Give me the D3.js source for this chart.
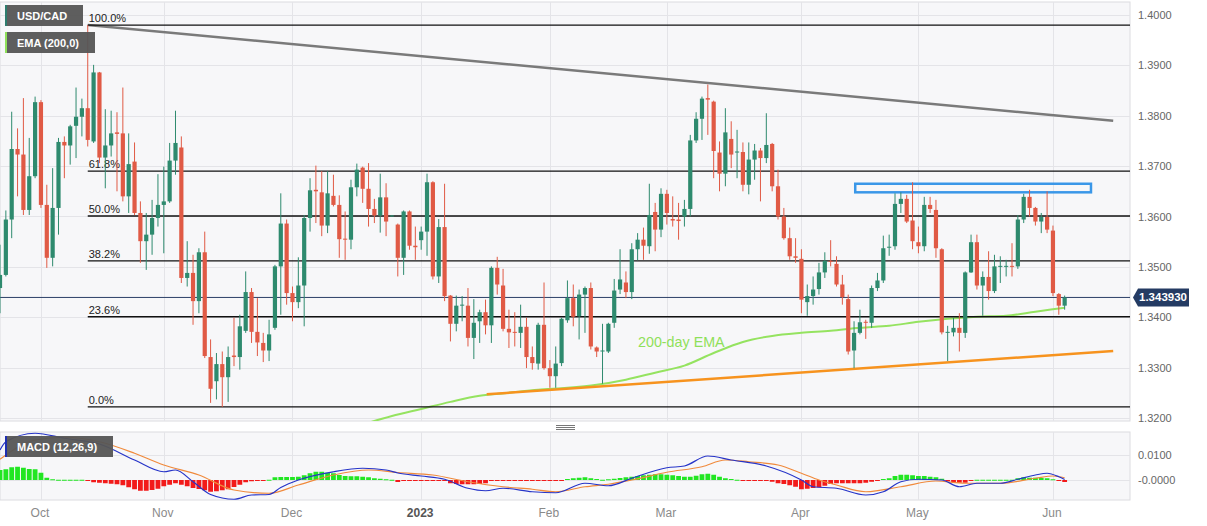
<!DOCTYPE html>
<html><head><meta charset="utf-8">
<script src="https://cdn.jsdelivr.net/npm/d3@7"></script>
<style>
body{margin:0;background:#fff;}
svg{display:block;font-family:"Liberation Sans",Arial,sans-serif;}
</style></head><body>
<svg id="c" width="1207" height="526"></svg>
<script>
// ---------- DATA ----------
// daily candles [open, high, low, close], trading-day index 0 = 22 Sep 2022 ... 182 = 5 Jun 2023
const ohlc = [
[1.3458,1.3544,1.3408,1.3484],[1.3484,1.3612,1.3481,1.3594],[1.3594,1.3808,1.3557,1.3734],[1.3734,1.3775,1.3640,1.3723],
[1.3723,1.3835,1.3603,1.3613],[1.3613,1.3756,1.3603,1.3680],[1.3680,1.3838,1.3676,1.3827],[1.3827,1.3831,1.3617,1.3623],
[1.3623,1.3663,1.3498,1.3518],[1.3518,1.3696,1.3501,1.3617],[1.3617,1.3756,1.3564,1.3748],[1.3748,1.3759,1.3676,1.3741],
[1.3741,1.3782,1.3703,1.3779],[1.3780,1.3856,1.3716,1.3798],[1.3798,1.3834,1.3759,1.3815],[1.3815,1.3980,1.3739,1.3752],
[1.3749,1.3901,1.3746,1.3886],[1.3886,1.3887,1.3706,1.3717],[1.3717,1.3813,1.3656,1.3741],[1.3741,1.3810,1.3719,1.3765],
[1.3767,1.3807,1.3650,1.3764],[1.3765,1.3856,1.3630,1.3640],[1.3640,1.3765,1.3607,1.3704],[1.3709,1.3747,1.3603,1.3607],
[1.3607,1.3630,1.3508,1.3551],[1.3551,1.3607,1.3494,1.3564],[1.3564,1.3633,1.3524,1.3597],[1.3597,1.3684,1.3580,1.3623],
[1.3623,1.3699,1.3527,1.3630],[1.3630,1.3746,1.3627,1.3711],[1.3711,1.3810,1.3683,1.3746],[1.3737,1.3759,1.3468,1.3478],
[1.3478,1.3551,1.3461,1.3488],[1.3488,1.3524,1.3385,1.3432],[1.3432,1.3537,1.3408,1.3529],[1.3529,1.3570,1.3319,1.3323],
[1.3321,1.3356,1.3230,1.3258],[1.3273,1.3329,1.3237,1.3307],[1.3307,1.3332,1.3222,1.3281],[1.3281,1.3342,1.3232,1.3321],
[1.3324,1.3399,1.3303,1.3321],[1.3321,1.3405,1.3296,1.3382],[1.3373,1.3491,1.3369,1.3450],[1.3450,1.3458,1.3349,1.3371],
[1.3371,1.3438,1.3323,1.3350],[1.3349,1.3369,1.3311,1.3334],[1.3334,1.3395,1.3313,1.3366],[1.3379,1.3504,1.3375,1.3501],
[1.3501,1.3646,1.3405,1.3586],[1.3586,1.3594,1.3425,1.3448],[1.3448,1.3461,1.3392,1.3430],[1.3430,1.3519,1.3418,1.3463],
[1.3463,1.3603,1.3382,1.3597],[1.3597,1.3676,1.3570,1.3652],[1.3653,1.3701,1.3587,1.3650],[1.3648,1.3690,1.3561,1.3582],
[1.3582,1.3690,1.3567,1.3646],[1.3641,1.3683,1.3620,1.3623],[1.3623,1.3642,1.3518,1.3555],[1.3556,1.3610,1.3514,1.3554],
[1.3554,1.3673,1.3535,1.3658],[1.3658,1.3705,1.3640,1.3693],[1.3697,1.3699,1.3627,1.3655],[1.3655,1.3706,1.3580,1.3615],
[1.3615,1.3635,1.3587,1.3602],[1.3602,1.3685,1.3568,1.3638],[1.3638,1.3666,1.3561,1.3590],[1.3601,1.3603,1.3600,1.3602],
[1.3584,1.3586,1.3481,1.3518],[1.3518,1.3612,1.3484,1.3610],[1.3610,1.3612,1.3534,1.3542],[1.3542,1.3580,1.3514,1.3539],
[1.3553,1.3580,1.3534,1.3570],[1.3570,1.3685,1.3522,1.3668],[1.3668,1.3670,1.3475,1.3481],[1.3481,1.3595,1.3468,1.3579],
[1.3579,1.3665,1.3432,1.3442],[1.3443,1.3444,1.3352,1.3387],[1.3387,1.3443,1.3372,1.3423],[1.3424,1.3442,1.3392,1.3425],
[1.3423,1.3458,1.3342,1.3359],[1.3359,1.3436,1.3317,1.3389],[1.3392,1.3415,1.3349,1.3410],[1.3410,1.3435,1.3366,1.3384],
[1.3384,1.3501,1.3349,1.3498],[1.3498,1.3520,1.3445,1.3465],[1.3463,1.3496,1.3372,1.3377],[1.3377,1.3415,1.3339,1.3370],
[1.3371,1.3410,1.3342,1.3369],[1.3369,1.3425,1.3339,1.3381],[1.3381,1.3399,1.3299,1.3321],[1.3321,1.3342,1.3296,1.3309],
[1.3308,1.3389,1.3296,1.3385],[1.3385,1.3469,1.3296,1.3299],[1.3299,1.3315,1.3260,1.3283],[1.3283,1.3342,1.3260,1.3308],
[1.3309,1.3399,1.3303,1.3397],[1.3394,1.3473,1.3389,1.3438],[1.3438,1.3465,1.3382,1.3401],[1.3402,1.3455,1.3356,1.3445],
[1.3445,1.3461,1.3369,1.3458],[1.3458,1.3469,1.3336,1.3342],[1.3340,1.3342,1.3321,1.3332],[1.3332,1.3387,1.3268,1.3334],
[1.3332,1.3389,1.3329,1.3387],[1.3389,1.3476,1.3379,1.3453],[1.3455,1.3535,1.3446,1.3475],[1.3469,1.3491,1.3438,1.3450],
[1.3450,1.3547,1.3436,1.3535],[1.3535,1.3567,1.3513,1.3554],[1.3554,1.3578,1.3514,1.3542],[1.3541,1.3665,1.3526,1.3603],
[1.3609,1.3627,1.3531,1.3574],[1.3574,1.3656,1.3559,1.3645],[1.3645,1.3653,1.3584,1.3607],[1.3595,1.3640,1.3580,1.3592],
[1.3594,1.3627,1.3554,1.3591],[1.3600,1.3633,1.3580,1.3615],[1.3615,1.3762,1.3600,1.3751],[1.3751,1.3807,1.3746,1.3794],
[1.3794,1.3838,1.3752,1.3834],[1.3835,1.3862,1.3762,1.3832],[1.3828,1.3830,1.3676,1.3730],[1.3727,1.3749,1.3650,1.3685],
[1.3685,1.3815,1.3660,1.3767],[1.3754,1.3789,1.3696,1.3723],[1.3727,1.3772,1.3676,1.3729],[1.3728,1.3747,1.3650,1.3663],
[1.3663,1.3747,1.3644,1.3713],[1.3713,1.3744,1.3673,1.3731],[1.3731,1.3736,1.3630,1.3716],[1.3716,1.3805,1.3706,1.3742],
[1.3744,1.3746,1.3650,1.3660],[1.3660,1.3693,1.3594,1.3600],[1.3600,1.3617,1.3554,1.3557],[1.3557,1.3578,1.3514,1.3521],
[1.3521,1.3557,1.3508,1.3518],[1.3516,1.3535,1.3408,1.3435],[1.3430,1.3465,1.3403,1.3442],[1.3442,1.3481,1.3425,1.3455],
[1.3456,1.3508,1.3445,1.3489],[1.3489,1.3529,1.3478,1.3512],[1.3512,1.3553,1.3501,1.3510],[1.3506,1.3521,1.3461,1.3465],
[1.3465,1.3484,1.3425,1.3440],[1.3436,1.3445,1.3326,1.3332],[1.3334,1.3392,1.3299,1.3369],[1.3369,1.3415,1.3366,1.3390],
[1.3391,1.3395,1.3357,1.3389],[1.3389,1.3463,1.3379,1.3458],[1.3458,1.3488,1.3452,1.3473],[1.3473,1.3562,1.3468,1.3537],
[1.3538,1.3564,1.3522,1.3540],[1.3541,1.3646,1.3534,1.3625],[1.3625,1.3648,1.3607,1.3635],[1.3635,1.3643,1.3587,1.3590],
[1.3592,1.3668,1.3535,1.3551],[1.3549,1.3580,1.3527,1.3541],[1.3541,1.3639,1.3531,1.3623],[1.3623,1.3639,1.3607,1.3615],
[1.3613,1.3633,1.3518,1.3537],[1.3535,1.3537,1.3366,1.3370],[1.3370,1.3383,1.3313,1.3371],[1.3370,1.3399,1.3362,1.3379],
[1.3379,1.3408,1.3332,1.3369],[1.3369,1.3491,1.3359,1.3489],[1.3489,1.3564,1.3488,1.3549],[1.3549,1.3564,1.3455,1.3463],
[1.3463,1.3491,1.3403,1.3480],[1.3480,1.3531,1.3435,1.3452],[1.3452,1.3524,1.3448,1.3501],[1.3500,1.3521,1.3468,1.3502],
[1.3501,1.3514,1.3481,1.3502],[1.3502,1.3547,1.3481,1.3500],[1.3501,1.3603,1.3496,1.3594],[1.3594,1.3645,1.3587,1.3639],
[1.3639,1.3653,1.3600,1.3617],[1.3617,1.3619,1.3582,1.3590],[1.3590,1.3607,1.3567,1.3599],[1.3599,1.3650,1.3567,1.3574],
[1.3572,1.3582,1.3442,1.3448],[1.3446,1.3448,1.3405,1.3423],[1.3423,1.3443,1.3415,1.34393]
];
const lastPrice = 1.34393;
const lastPriceLabel = "1.343930";

// 200-day EMA read at sample days [dayIndex, value]
const ema200 = [[62,1.3187],[67,1.3204],[72,1.3218],[77,1.3232],[82,1.3244],[87,1.3250],[92,1.3256],[97,1.3260],
[102,1.3266],[107,1.3276],[112,1.3290],[117,1.3304],[122,1.3329],[127,1.3351],[132,1.3363],[137,1.3369],[142,1.3373],
[147,1.3379],[152,1.3383],[157,1.3391],[162,1.3397],[167,1.3401],[172,1.3403],[177,1.3411],[182,1.3419]];

// MACD histogram, one value per candle
const macdHist = [
0.0040,0.0043,0.0051,0.0053,0.0049,0.0044,0.0043,0.0029,0.0009,0.0003,0.0001,0.0001,0.0001,0.0001,0.0001,
-0.0002,
-0.0009,-0.0011,-0.0013,-0.0015,-0.0017,-0.0021,-0.0029,-0.0037,-0.0043,-0.0043,-0.0040,-0.0035,-0.0025,-0.0019,-0.0013,
-0.0019,-0.0025,-0.0032,-0.0036,-0.0041,-0.0047,-0.0045,-0.0041,-0.0037,-0.0028,-0.0019,-0.0009,-0.0005,-0.0004,-0.0002,0.0001,
0.0011,0.0012,0.0012,0.0012,0.0013,0.0019,0.0027,0.0033,0.0033,0.0029,0.0027,0.0020,0.0016,0.0015,0.0015,0.0013,0.0011,0.0007,0.0005,0.0003,0.0001,
-0.0008,
-0.0004,-0.0004,-0.0004,-0.0004,-0.0004,-0.0004,-0.0004,-0.0004,
-0.0013,-0.0016,-0.0017,-0.0017,-0.0017,-0.0016,-0.0013,
-0.0003,-0.0003,-0.0003,-0.0003,-0.0003,-0.0003,-0.0003,-0.0003,-0.0003,-0.0003,-0.0003,-0.0003,-0.0003,
0.0004,0.0007,0.0009,0.0011,0.0007,0.0004,0.0001,0.0003,0.0005,0.0008,0.0011,0.0013,0.0016,0.0019,0.0021,
0.0023,0.0023,0.0021,0.0019,0.0016,0.0013,0.0013,0.0017,0.0023,0.0025,0.0021,0.0013,0.0007,0.0004,0.0001,
-0.0004,-0.0004,-0.0004,-0.0004,-0.0004,-0.0007,-0.0013,-0.0016,-0.0021,-0.0027,
-0.0037,-0.0035,-0.0032,-0.0029,-0.0023,-0.0016,-0.0013,-0.0013,-0.0013,-0.0013,-0.0013,-0.0011,-0.0007,-0.0003,
0.0004,0.0007,0.0016,0.0021,0.0021,0.0019,0.0016,0.0016,0.0013,0.0011,0.0005,
-0.0005,-0.0008,-0.0011,-0.0011,-0.0003,
0.0001,0.0001,0.0001,0.0001,0.0001,0.0001,0.0001,
0.0007,0.0011,0.0009,0.0009,0.0008,0.0007,0.0003,
-0.0004,-0.0008
];
// MACD and signal lines read at sample days [dayIndex, value]
const macdLine = [[0,0.0120],[1,0.0153],[6,0.0187],[11,0.0167],[17,0.0144],[23,0.0080],[28,0.0033],[30,0.0040],[33,-0.0007],
[36,-0.0058],[40,-0.0077],[43,-0.0060],[46,-0.0058],[48,-0.0030],[51,0.0000],[57,0.0033],[62,0.0047],[66,0.0040],[68,0.0028],
[72,0.0016],[76,0.0003],[80,-0.0033],[83,-0.0043],[86,-0.0033],[91,-0.0047],[95,-0.0051],[100,-0.0013],[104,-0.0023],
[108,0.0007],[114,0.0049],[117,0.0056],[121,0.0096],[125,0.0080],[131,0.0056],[137,0.0000],[139,-0.0027],[143,-0.0033],
[148,-0.0060],[151,-0.0047],[154,-0.0007],[157,0.0003],[161,0.0000],[164,-0.0027],[167,-0.0013],[171,-0.0013],[174,0.0003],
[177,0.0020],[179,0.0027],[181,0.0013],[182,0.0002]];
const signalLine = [[0,0.0083],[6,0.0160],[11,0.0171],[17,0.0153],[23,0.0107],[28,0.0060],[34,0.0020],[40,-0.0040],
[46,-0.0053],[51,-0.0020],[57,0.0020],[63,0.0040],[68,0.0030],[74,0.0020],[80,-0.0007],[86,-0.0027],[91,-0.0037],
[95,-0.0047],[100,-0.0027],[104,-0.0017],[108,0.0000],[114,0.0031],[120,0.0053],[124,0.0080],[128,0.0073],[133,0.0060],
[137,0.0027],[140,0.0000],[143,-0.0020],[148,-0.0047],[154,-0.0027],[160,-0.0004],[165,-0.0013],[171,-0.0013],
[177,0.0007],[180,0.0016],[182,0.0009]];

// Fibonacci retracement levels
const fibLabels = ["100.0%","61.8%","50.0%","38.2%","23.6%","0.0%"];
const fibValues = [1.3980,1.3690,1.3601,1.3512,1.3401,1.3222];
const fibStartDay = 15;

// trend lines [dayIndex, price]
const resistanceLine = [[15,1.3980],[190.3,1.3790]];
const supportLine = [[83.2,1.3247],[190.3,1.3333]];
// resistance zone box [dayStart, dayEnd, priceTop, priceBottom]
const zoneBox = [146.2,186.5,1.3665,1.3648];

// axes
const priceTicks = [1.32,1.33,1.34,1.35,1.36,1.37,1.38,1.39,1.40];
const macdTicks = [0.01,0];
const macdTickLabels = ["0.0100","-0.0000"];
const monthDays = [7,28,50,72,94,114,137,157,180];
const monthLabels = ["Oct","Nov","Dec","2023","Feb","Mar","Apr","May","Jun"];

// ---------- DRAW ----------
const svg = d3.select("#c");
const L = 0, R = 1130, pT = 2, pB = 421, mT = 432, mB = 500;
const x = d3.scaleLinear().domain([0,193]).range([0,1129]);
const y = d3.scaleLinear().domain([1.32,1.40]).range([418,15]);
const ym = d3.scaleLinear().domain([0,0.01]).range([480,455]);

const defs = svg.append("defs");
defs.append("clipPath").attr("id","cp").append("rect").attr("x",L).attr("y",pT).attr("width",R-L).attr("height",pB-pT);
defs.append("clipPath").attr("id","cm").append("rect").attr("x",L).attr("y",mT).attr("width",R-L).attr("height",mB-mT);

// panels
svg.append("rect").attr("x",L).attr("y",pT).attr("width",R-L).attr("height",pB-pT).attr("fill","#f7f7f9").attr("stroke","#dcdce0");
svg.append("rect").attr("x",L).attr("y",mT).attr("width",R-L).attr("height",mB-mT).attr("fill","#f7f7f9").attr("stroke","#dcdce0");

// grid
const grid = svg.append("g").attr("stroke","#e4e4e8").attr("stroke-width",1);
grid.selectAll(".gh").data(priceTicks).join("line").attr("x1",L).attr("x2",R)
  .attr("y1",d=>Math.round(y(d))+0.5).attr("y2",d=>Math.round(y(d))+0.5);
grid.selectAll(".gm").data(macdTicks).join("line").attr("x1",L).attr("x2",R)
  .attr("y1",d=>Math.round(ym(d))+0.5).attr("y2",d=>Math.round(ym(d))+0.5);
monthDays.forEach(d=>{
  const xx = Math.round(x(d))+0.5;
  grid.append("line").attr("x1",xx).attr("x2",xx).attr("y1",pT).attr("y2",pB);
  grid.append("line").attr("x1",xx).attr("x2",xx).attr("y1",mT).attr("y2",mB);
});

// right axes
const axP = svg.append("g").attr("transform",`translate(${R},0)`)
  .call(d3.axisRight(y).tickValues(priceTicks).tickFormat(d3.format(".4f")).tickSize(0).tickPadding(8));
axP.select(".domain").remove();
axP.selectAll("text").attr("font-size",11).attr("fill","#666").attr("font-family","Liberation Sans, Arial, sans-serif");
const axM = svg.append("g").attr("transform",`translate(${R},0)`)
  .call(d3.axisRight(ym).tickValues(macdTicks).tickFormat((d,i)=>macdTickLabels[i]).tickSize(0).tickPadding(8));
axM.select(".domain").remove();
axM.selectAll("text").attr("font-size",11).attr("fill","#666").attr("font-family","Liberation Sans, Arial, sans-serif");

// bottom month labels
svg.append("g").selectAll("text").data(monthDays).join("text")
  .attr("x",d=>x(d)-1).attr("y",517).attr("text-anchor","middle")
  .attr("font-size",12).attr("fill",(d,i)=>monthLabels[i]==="2023"?"#555":"#8a8a8a")
  .attr("font-weight",(d,i)=>monthLabels[i]==="2023"?"bold":"normal")
  .text((d,i)=>monthLabels[i]);

// panel handle
[425,427,429].forEach(yy=>svg.append("line").attr("x1",556).attr("x2",575).attr("y1",yy+0.5).attr("y2",yy+0.5).attr("stroke","#777"));

const P = svg.append("g").attr("clip-path","url(#cp)");

// EMA 200
P.append("path").datum(ema200).attr("fill","none").attr("stroke","#95e360").attr("stroke-width",2)
  .attr("d",d3.line().x(d=>x(d[0])).y(d=>y(d[1])).curve(d3.curveMonotoneX));

// trend lines
P.append("path").datum(resistanceLine).attr("fill","none").attr("stroke","#7a7a7a").attr("stroke-width",2.5)
  .attr("d",d3.line().x(d=>x(d[0])).y(d=>y(d[1])));
P.append("path").datum(supportLine).attr("fill","none").attr("stroke","#f7931e").attr("stroke-width",2.5)
  .attr("d",d3.line().x(d=>x(d[0])).y(d=>y(d[1])));

// fib lines
P.selectAll(".fib").data(fibValues).join("line").attr("x1",x(fibStartDay)).attr("x2",R)
  .attr("y1",d=>y(d)).attr("y2",d=>y(d)).attr("stroke","#111").attr("stroke-width",1.4);
P.selectAll(".fibt").data(fibValues).join("text").attr("x",x(fibStartDay)+1).attr("y",d=>y(d)-3)
  .attr("font-size",11).attr("fill","#222").text((d,i)=>fibLabels[i]);

// zone box
P.append("rect").attr("x",x(zoneBox[0])).attr("y",y(zoneBox[2])).attr("width",x(zoneBox[1])-x(zoneBox[0]))
  .attr("height",y(zoneBox[3])-y(zoneBox[2])).attr("fill","none").attr("stroke","#3a97e8").attr("stroke-width",2.5);

// last price line
P.append("line").attr("x1",L).attr("x2",R).attr("y1",y(lastPrice)).attr("y2",y(lastPrice)).attr("stroke","#2b3f66").attr("stroke-width",1);

// candles
const up = "#2e8a6e", dn = "#e05a45", bw = 4.2;
const cg = P.append("g");
ohlc.forEach((c,i)=>{
  const col = c[3] >= c[0] ? up : dn;
  const cx = x(i);
  cg.append("line").attr("x1",cx).attr("x2",cx).attr("y1",y(c[1])).attr("y2",y(c[2])).attr("stroke",col).attr("stroke-width",1);
  const top = y(Math.max(c[0],c[3])), bot = y(Math.min(c[0],c[3]));
  cg.append("rect").attr("x",cx-bw/2).attr("y",top).attr("width",bw).attr("height",Math.max(1,bot-top)).attr("fill",col);
});

// EMA label
P.append("text").attr("x",638).attr("y",347).attr("font-size",14.3).attr("fill","#8fe05a").text("200-day EMA");

// price tag
const ty = y(lastPrice);
svg.append("path").attr("d",`M${R+3},${ty} L${R+8},${ty-9} L${R+59},${ty-9} L${R+59},${ty+9} L${R+8},${ty+9} Z`).attr("fill","#243b63");
svg.append("text").attr("x",R+9).attr("y",ty+4).attr("font-size",11.5).attr("font-weight","bold").attr("fill","#fff").text(lastPriceLabel);

// MACD panel
const M = svg.append("g").attr("clip-path","url(#cm)");
M.selectAll(".h").data(macdHist).join("rect")
  .attr("x",(d,i)=>x(i)-2.4).attr("width",4.8)
  .attr("y",d=>d>=0?ym(d):ym(0)).attr("height",d=>Math.max(1,Math.abs(ym(d)-ym(0))))
  .attr("fill",d=>d>=0?"#22e622":"#f21a1a");
M.append("path").datum(signalLine).attr("fill","none").attr("stroke","#f08a3c").attr("stroke-width",1.2)
  .attr("d",d3.line().x(d=>x(d[0])).y(d=>ym(d[1])).curve(d3.curveMonotoneX));
M.append("path").datum(macdLine).attr("fill","none").attr("stroke","#2634c8").attr("stroke-width",1.2)
  .attr("d",d3.line().x(d=>x(d[0])).y(d=>ym(d[1])).curve(d3.curveMonotoneX));

// legend boxes
function tag(xp,yp,w,h,strip,label){
  const g = svg.append("g");
  g.append("rect").attr("x",xp).attr("y",yp).attr("width",w).attr("height",h).attr("fill","#555").attr("opacity",0.95);
  g.append("rect").attr("x",xp).attr("y",yp).attr("width",2).attr("height",h).attr("fill",strip);
  g.append("text").attr("x",xp+12).attr("y",yp+h/2+4).attr("font-size",11).attr("font-weight","bold").attr("fill","#fff").text(label);
}
tag(5,5,78,21,"#2e7d6e","USD/CAD");
tag(5,32,90,21,"#8fe05a","EMA (200,0)");
tag(5,436,108,21,"#1f2fb0","MACD (12,26,9)");
</script>
</body></html>
